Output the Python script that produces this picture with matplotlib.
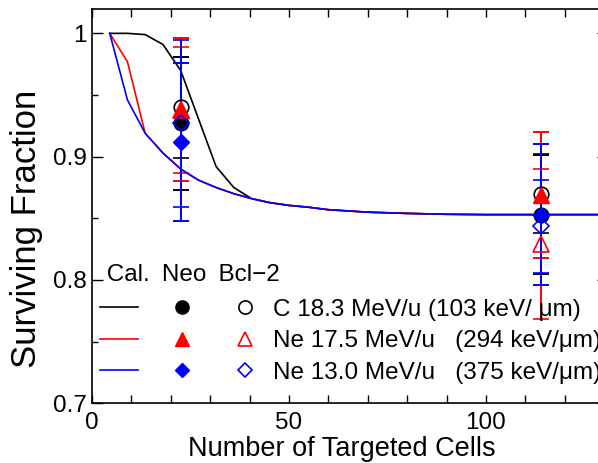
import matplotlib
matplotlib.use('Agg')
import matplotlib.pyplot as plt
from matplotlib.lines import Line2D
from matplotlib.ticker import MultipleLocator

plt.rcParams['font.family'] = ['Liberation Sans', 'DejaVu Sans']

# calculated curves
cal_x = [4.5, 9, 13.5, 18, 22.5, 27, 31.5, 36, 40.5, 45, 50, 55, 60, 70, 80, 90, 100, 110, 120, 131]
cal_c = [1.0, 1.0, 0.999, 0.991, 0.970, 0.931, 0.892, 0.875, 0.866, 0.8628, 0.8605, 0.859, 0.857,
         0.855, 0.854, 0.8533, 0.853, 0.853, 0.853, 0.853]
cal_ne175 = [1.0, 0.977, 0.919, 0.903, 0.890, 0.881, 0.875, 0.870, 0.866, 0.8628, 0.8605, 0.859, 0.857,
             0.855, 0.854, 0.8533, 0.853, 0.853, 0.853, 0.853]
cal_ne130 = [1.0, 0.946, 0.919, 0.903, 0.890, 0.881, 0.875, 0.870, 0.866, 0.8628, 0.8605, 0.859, 0.857,
             0.855, 0.854, 0.8533, 0.853, 0.853, 0.853, 0.853]

# measured points (Neo = filled, Bcl-2 = open)
exp_x = [22.5, 114]
neo_c = [0.927, 0.853]
neo_c_err = [0.054, 0.048]
bcl_c = [0.940, 0.870]
bcl_c_err = [0.041, 0.032]
neo_ne175 = [0.938, 0.869]
neo_ne175_err = [0.058, 0.051]
bcl_ne175 = [0.938, 0.829]
bcl_ne175_err = [0.051, 0.061]
neo_ne130 = [0.912, 0.853]
neo_ne130_err = [0.064, 0.057]
bcl_ne130 = [0.927, 0.8435]
bcl_ne130_err = [0.068, 0.0375]

labels = ['C 18.3 MeV/u (103 keV/ μm)',
          'Ne 17.5 MeV/u   (294 keV/μm)',
          'Ne 13.0 MeV/u   (375 keV/μm)']
header = ' Cal.\u2002Neo\u2002Bcl\u22122'

fig = plt.figure(figsize=(5.98, 4.63), dpi=100)
ax = fig.add_axes([92/598, 59.7/463, 516/598, 394.6/463])

sets = [
    ('k', 'o', 10.5, cal_c, neo_c, neo_c_err, bcl_c, bcl_c_err),
    ('r', '^', 11, cal_ne175, neo_ne175, neo_ne175_err, bcl_ne175, bcl_ne175_err),
    ('b', 'D', 8, cal_ne130, neo_ne130, neo_ne130_err, bcl_ne130, bcl_ne130_err),
]
for col, mk, ms, cal, neo, neo_err, bcl, bcl_err in sets:
    ax.plot(cal_x, cal, color=col, lw=1.2)
    ax.errorbar(exp_x, bcl, yerr=bcl_err, fmt=mk, ms=ms, mfc='none', mec=col, mew=1.2,
                ecolor=col, elinewidth=1.4, capsize=6, capthick=1.4)
    ax.errorbar(exp_x, neo, yerr=neo_err, fmt=mk, ms=ms, color=col,
                ecolor=col, elinewidth=1.4, capsize=6, capthick=1.4)

ax.set_xlim(0, 131)
ax.set_ylim(0.7, 1.02)
ax.xaxis.set_major_locator(MultipleLocator(50))
ax.xaxis.set_minor_locator(MultipleLocator(10))
ax.yaxis.set_major_locator(MultipleLocator(0.1))
ax.yaxis.set_minor_locator(MultipleLocator(0.05))
ax.set_yticks([0.7, 0.8, 0.9, 1.0])
ax.set_yticklabels(['0.7', '0.8', '0.9', '1'])
ax.tick_params(axis='x', which='both', direction='in', top=True, length=6, width=1,
               labelsize=17.5, pad=6)
ax.tick_params(axis='y', which='major', direction='in', right=True, length=8, width=1,
               labelsize=17.5, pad=4)
ax.tick_params(axis='y', which='minor', direction='in', right=True, length=4, width=1)
for s in ax.spines.values():
    s.set_linewidth(1.2)

ax.set_xlabel('Number of Targeted Cells', fontsize=19.5)
ax.xaxis.set_label_coords((342 - 92) / 516, -(436 - 403.3) / 394.6)
ax.set_ylabel('Surviving Fraction', fontsize=25)
ax.yaxis.set_label_coords((43 - 92) / 516, (403.3 - 229) / 394.6)

cols = ['k', 'r', 'b']
marks = [('o', 9.5), ('^', 10), ('D', 7.5)]
h_line = [Line2D([], [], color=c, lw=1.2) for c in cols]
h_fill = [Line2D([], [], ls='none', marker=m, ms=s, color=c) for c, (m, s) in zip(cols, marks)]
h_open = [Line2D([], [], ls='none', marker=m, ms=s, mfc='none', mec=c, mew=1.2)
          for c, (m, s) in zip(cols, marks)]
leg = ax.legend(h_line + h_fill + h_open, ['', '', ''] + ['', '', ''] + labels,
                ncol=3, loc='lower left', bbox_to_anchor=((100 - 92) / 516, (403.3 - 384) / 394.6),
                frameon=False, fontsize=17.5, borderpad=0, borderaxespad=0,
                handlelength=1.56, handletextpad=0.37, columnspacing=0.66,
                labelspacing=0.4, title=header, title_fontsize=17.5, alignment='left')
leg._legend_box.sep = 9

fig.savefig('out.png', dpi=100)
